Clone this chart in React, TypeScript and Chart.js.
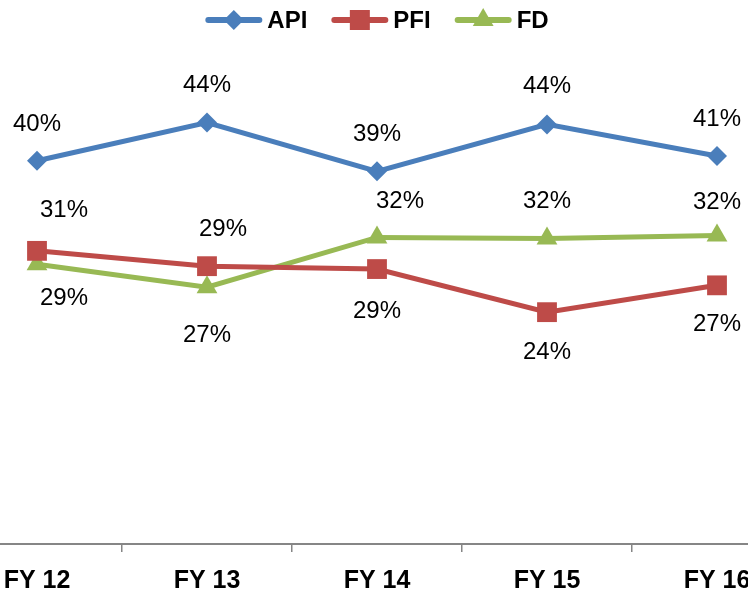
import React, { useEffect, useRef } from 'react';
import { Chart, registerables } from 'chart.js';

Chart.register(...registerables);

// ---- data ----
const categories = ['FY 12', 'FY 13', 'FY 14', 'FY 15', 'FY 16'];
const apiValues = [40.0, 44.0, 38.9, 43.8, 40.5];
const pfiValues = [30.6, 29.0, 28.7, 24.2, 27.0];
const fdValues = [29.2, 26.8, 32.0, 31.9, 32.2];
const seriesNames = ['API', 'PFI', 'FD'];

// label placement (offset of label centre from point)
const apiLabelOffsets = [[0, -36], [0, -37], [0, -37], [0, -38], [0, -37]];
const pfiLabelOffsets = [[27, -40], [16, -37], [0, 42], [0, 40], [0, 39]];
const fdLabelOffsets = [[27, 34], [0, 48], [23, -36], [0, -37], [0, -33]];

const BLUE = '#4A7EBB';
const RED = '#BE4B48';
const GREEN = '#98B954';
const FONT = "'Liberation Sans', Arial, sans-serif";

const labelOffsets = [apiLabelOffsets, pfiLabelOffsets, fdLabelOffsets];

const labelsPlugin = {
  id: 'pctLabels',
  afterDatasetsDraw(chart: any) {
    const ctx = chart.ctx;
    ctx.save();
    ctx.font = `24px ${FONT}`;
    ctx.fillStyle = '#000';
    ctx.textAlign = 'center';
    ctx.textBaseline = 'middle';
    chart.data.datasets.forEach((ds: any, di: number) => {
      const meta = chart.getDatasetMeta(di);
      meta.data.forEach((pt: any, i: number) => {
        const off = labelOffsets[di][i];
        const v = ds.data[i];
        ctx.fillText(Math.round(v) + '%', pt.x + off[0], pt.y + off[1]);
      });
    });
    ctx.restore();
  },
};

const legendPlugin = {
  id: 'customLegend',
  afterDraw(chart: any) {
    const ctx = chart.ctx;
    ctx.save();
    ctx.font = `bold 24px ${FONT}`;
    const lineLen = 57;
    const gapText = 5;
    const gapItem = 24;
    const items = chart.data.datasets.map((ds: any) => ({
      ds,
      w: lineLen + gapText + ctx.measureText(ds.label).width,
    }));
    const total = items.reduce((a: number, it: any) => a + it.w, 0) + gapItem * (items.length - 1);
    let x = chart.width / 2 - total / 2;
    const y = 20;
    items.forEach((it: any) => {
      const ds = it.ds;
      ctx.strokeStyle = ds.borderColor;
      ctx.lineWidth = 6;
      ctx.lineCap = 'round';
      ctx.beginPath();
      ctx.moveTo(x + 3, y);
      ctx.lineTo(x + lineLen - 3, y);
      ctx.stroke();
      ctx.fillStyle = ds.borderColor;
      const cx = x + lineLen / 2;
      ctx.beginPath();
      if (ds.pointStyle === 'rectRot') {
        const r = 10;
        ctx.moveTo(cx, y - r);
        ctx.lineTo(cx + r, y);
        ctx.lineTo(cx, y + r);
        ctx.lineTo(cx - r, y);
      } else if (ds.pointStyle === 'rect') {
        const h = 10;
        ctx.rect(cx - h, y - h, 2 * h, 2 * h);
      } else {
        const r = 12;
        ctx.moveTo(cx, y - r);
        ctx.lineTo(cx + r * 0.866, y + r / 2);
        ctx.lineTo(cx - r * 0.866, y + r / 2);
      }
      ctx.closePath();
      ctx.fill();
      ctx.fillStyle = '#000';
      ctx.textAlign = 'left';
      ctx.textBaseline = 'middle';
      ctx.fillText(ds.label, x + lineLen + gapText, y + 1);
      x += it.w + gapItem;
    });
    ctx.restore();
  },
};

export default function App() {
  const ref = useRef<HTMLCanvasElement | null>(null);
  useEffect(() => {
    if (!ref.current) return;
    const mk = (label: string, data: number[], color: string, style: string, r: number) => ({
      label,
      data,
      borderColor: color,
      backgroundColor: color,
      borderWidth: 5,
      pointStyle: style,
      pointRadius: r,
      pointHoverRadius: r,
      pointBorderWidth: 0,
      pointBackgroundColor: color,
      tension: 0,
      clip: false as any,
    });
    const chart = new Chart(ref.current, {
      type: 'line',
      data: {
        labels: categories,
        datasets: [
          mk(seriesNames[0], apiValues, BLUE, 'rectRot', 10),
          mk(seriesNames[1], pfiValues, RED, 'rect', 14),
          mk(seriesNames[2], fdValues, GREEN, 'triangle', 12),
        ],
      },
      options: {
        animation: false,
        responsive: false,
        maintainAspectRatio: false,
        layout: { autoPadding: false, padding: { top: 65, left: 0, right: 0, bottom: 0 } },
        plugins: {
          legend: { display: false },
          tooltip: { enabled: false },
        },
        scales: {
          x: {
            offset: true,
            grid: {
              display: true,
              offset: true,
              drawOnChartArea: false,
              drawTicks: true,
              tickLength: 8,
              color: '#868686',
              lineWidth: 1.5,
            },
            border: { display: true, color: '#868686', width: 2 },
            ticks: {
              font: { family: FONT, size: 25, weight: 'bold' },
              color: '#000',
              padding: 14,
              maxRotation: 0,
              autoSkip: false,
            },
            afterFit: (scale: any) => {
              scale.height = 51;
            },
          },
          y: {
            display: false,
            min: 0,
            max: 50,
          },
        },
      },
      plugins: [labelsPlugin, legendPlugin],
    });
    return () => chart.destroy();
  }, []);
  return (
    <div style={{ position: 'fixed', left: 0, top: 0, width: 748, height: 595, overflow: 'hidden', background: '#fff' }}>
      <canvas ref={ref} width={850} height={595} style={{ position: 'absolute', left: -48, top: 0, width: 850, height: 595 }} />
    </div>
  );
}
